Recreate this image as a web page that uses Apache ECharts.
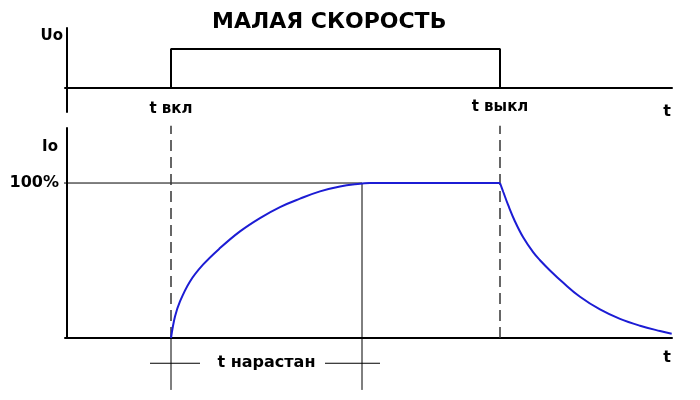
<!DOCTYPE html>
<html>
<head>
<meta charset="utf-8">
<script src="https://cdn.jsdelivr.net/npm/echarts@6/dist/echarts.min.js"></script>
<style>html,body{margin:0;padding:0;background:#fff}#c{width:700px;height:400px}</style>
</head>
<body>
<div id="c"></div>
<script>
// Time marks (arbitrary time units)
const tOn = 10.4;     // switch on
const tRise = 29.5;   // end of rise
const tOff = 43.3;    // switch off
const tMax = 60.5;

// Voltage pulse Uo
const uoTimes = [tOn, tOn, tOff, tOff];
const uoValues = [0, 1, 1, 0];

// Current Io (%) – rise
const riseTimes = [10.4, 10.8, 11.3, 12.3, 13.6, 15.3, 17.3, 19.3, 21.3, 23.3, 25.3, 27.3, 29.3, 30.3];
const riseValues = [0, 13.8, 23.6, 36.5, 47.3, 58, 68.8, 77.4, 84.5, 89.9, 94.6, 97.8, 99.5, 100];
// Current Io (%) – steady part
const flatTimes = [30.3, 43.3];
const flatValues = [100, 100];
// Current Io (%) – decay
const fallTimes = [43.3, 43.63, 44.13, 44.8, 45.63, 46.63, 47.3, 48.3, 49.63, 51.3, 53.3, 55.3, 57.3, 59.3, 60.47];
const fallValues = [100, 94.2, 85.5, 75.2, 64.8, 55.2, 50.2, 43.6, 35.6, 26.6, 18.4, 12.3, 7.9, 4.5, 2.8];

// Texts
const titleText = 'МАЛАЯ СКОРОСТЬ';
const onLabel = 't вкл';
const offLabel = 't выкл';
const riseLabel = 't нарастан';
const fullLabel = '100%';

const zip = (a, b) => a.map((v, i) => [v, b[i]]);
const FONT = 'DejaVu Sans';
const txt = (size) => ({ fontFamily: FONT, fontWeight: 'bold', fontSize: size, color: '#000' });
const BLUE = '#1c1cd4';

const chart = echarts.init(document.getElementById('c'), null, { renderer: 'canvas' });

const axisLine = { show: true, lineStyle: { color: '#000', width: 2 } };
const thin = { color: '#000', width: 1 };
const textLabel = (size) => Object.assign({ show: true, position: 'top', distance: 0, verticalAlign: 'middle', align: 'center',
  formatter: p => p.name, textBorderWidth: 0 }, txt(size));

chart.setOption({
  animation: false,
  backgroundColor: '#fff',
  title: {
    text: titleText, left: 207, top: 6,
    textStyle: txt(22)
  },
  grid: [
    { left: 65, width: 607, top: 28, height: 84 },
    { left: 65, width: 607, top: 128, height: 210 },
    { left: 65, width: 607, top: 120, height: 270 }
  ],
  xAxis: [
    { gridIndex: 0, type: 'value', min: -0.2, max: tMax, axisLine, axisTick: { show: false }, axisLabel: { show: false }, splitLine: { show: false },
      name: 't', nameLocation: 'end', nameGap: 0, nameTextStyle: Object.assign(txt(16), { align: 'right', verticalAlign: 'top', padding: [16, 1, 0, 0] }) },
    { gridIndex: 1, type: 'value', min: -0.2, max: tMax, axisLine, axisTick: { show: false }, axisLabel: { show: false }, splitLine: { show: false },
      name: 't', nameLocation: 'end', nameGap: 0, nameTextStyle: Object.assign(txt(16), { align: 'right', verticalAlign: 'top', padding: [12, 1, 0, 0] }) },
    { gridIndex: 2, type: 'value', min: -0.2, max: tMax, show: false }
  ],
  yAxis: [
    { gridIndex: 0, type: 'value', min: -0.615, max: 1.54, axisLine, axisTick: { show: false }, axisLabel: { show: false }, splitLine: { show: false },
      name: 'Uo', nameLocation: 'end', nameGap: 0, nameTextStyle: Object.assign(txt(15), { align: 'right', verticalAlign: 'top', padding: [1, 4, 0, 0] }) },
    { gridIndex: 1, type: 'value', min: 0, max: 135.5, interval: 100, axisLine, axisTick: { show: false }, splitLine: { show: false },
      axisLabel: { show: true, margin: 6, formatter: v => v === 100 ? fullLabel : '', ...txt(16) },
      name: 'Io', nameLocation: 'end', nameGap: 0, nameTextStyle: Object.assign(txt(15), { align: 'right', verticalAlign: 'top', padding: [12, 9, 0, 0] }) },
    { gridIndex: 2, type: 'value', min: -33.55, max: 140.65, show: false }
  ],
  series: [
    // voltage pulse
    { type: 'line', xAxisIndex: 0, yAxisIndex: 0, data: zip(uoTimes, uoValues), symbol: 'none',
      lineStyle: { color: '#000', width: 2 } },
    // on / off labels
    { type: 'scatter', xAxisIndex: 0, yAxisIndex: 0, symbolSize: 0, clip: false, itemStyle: { opacity: 1, color: '#000' },
      data: [{ value: [tOn, -0.55], name: onLabel }, { value: [tOff, -0.5], name: offLabel }],
      label: textLabel(15) },
    // 100% reference line
    { type: 'line', xAxisIndex: 1, yAxisIndex: 1, data: [[-0.5, 100], [tRise, 100]], symbol: 'none', clip: false, lineStyle: thin },
    // current rise
    { type: 'line', xAxisIndex: 1, yAxisIndex: 1, data: zip(riseTimes, riseValues), symbol: 'none', smooth: 0.4,
      lineStyle: { color: BLUE, width: 2 }, z: 5 },
    // current steady
    { type: 'line', xAxisIndex: 1, yAxisIndex: 1, data: zip(flatTimes, flatValues), symbol: 'none',
      lineStyle: { color: BLUE, width: 2 }, z: 5 },
    // current decay
    { type: 'line', xAxisIndex: 1, yAxisIndex: 1, data: zip(fallTimes, fallValues), symbol: 'none', smooth: 0.4,
      lineStyle: { color: BLUE, width: 2 }, z: 5 },
    // dashed markers at on / off
    { type: 'line', xAxisIndex: 2, yAxisIndex: 2, data: [[tOn, 0], [tOn, 137]], symbol: 'none',
      lineStyle: { color: '#333', width: 1.5, type: [11, 6] } },
    { type: 'line', xAxisIndex: 2, yAxisIndex: 2, data: [[tOff, 0], [tOff, 137]], symbol: 'none',
      lineStyle: { color: '#333', width: 1.5, type: [11, 6] } },
    // rise-time markers
    { type: 'line', xAxisIndex: 2, yAxisIndex: 2, data: [[tOn, -33.5], [tOn, 0]], symbol: 'none', lineStyle: thin },
    { type: 'line', xAxisIndex: 2, yAxisIndex: 2, data: [[tRise, -33.5], [tRise, 100]], symbol: 'none', lineStyle: thin },
    { type: 'line', xAxisIndex: 2, yAxisIndex: 2, data: [[tOn - 2.1, -16.3], [tOn + 2.9, -16.3]], symbol: 'none', lineStyle: thin },
    { type: 'line', xAxisIndex: 2, yAxisIndex: 2, data: [[tRise - 3.7, -16.3], [tRise + 1.8, -16.3]], symbol: 'none', lineStyle: thin },
    { type: 'scatter', xAxisIndex: 2, yAxisIndex: 2, symbolSize: 0, clip: false, itemStyle: { opacity: 1, color: '#000' },
      data: [{ value: [(tOn + tRise) / 2, -16.3], name: riseLabel }],
      label: textLabel(16) }
  ]
});
</script>
</body>
</html>
